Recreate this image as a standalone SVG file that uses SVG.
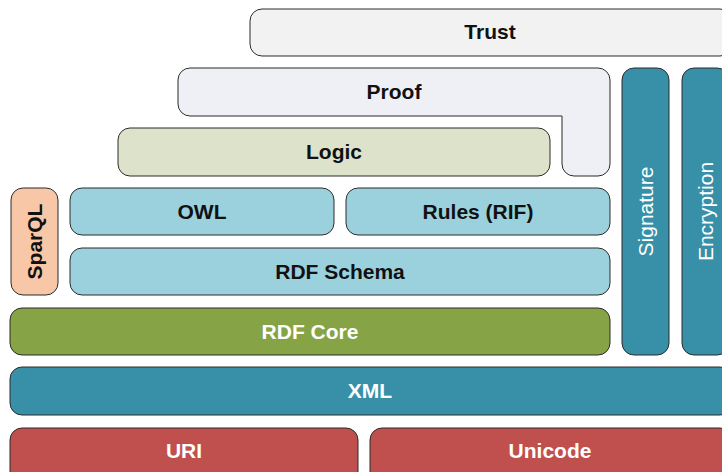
<svg xmlns="http://www.w3.org/2000/svg" width="722" height="472" viewBox="0 0 722 472">
<style>
.b{stroke:#2b2b2b;stroke-width:1}
.t{font-family:"Liberation Sans",Arial,sans-serif;font-size:21px;font-weight:bold;text-anchor:middle}
.dk{fill:#111}
.wh{fill:#ffffff}
.n{font-weight:normal}
</style>
<rect width="722" height="472" fill="#ffffff"/>
<g id="trust"><rect class="b" x="250" y="9" width="482" height="47" rx="12" fill="#f2f2f2"/><text class="t dk" x="490" y="39">Trust</text></g>
<g id="proof"><path class="b" fill="#eef0f5" d="M190,68 H598 A12,12 0 0 1 610,80 V164 A12,12 0 0 1 598,176 H574 A12,12 0 0 1 562,164 V116 H190 A12,12 0 0 1 178,104 V80 A12,12 0 0 1 190,68 Z"/><text class="t dk" x="394" y="99">Proof</text></g>
<g id="logic"><rect class="b" x="118" y="128" width="432" height="48" rx="12" fill="#dde2cb"/><text class="t dk" x="334" y="159">Logic</text></g>
<g id="signature"><rect class="b" x="622" y="68" width="47" height="287" rx="12" fill="#3790a8"/><text class="t wh n" transform="translate(645.5,211.5) rotate(-90)" y="7">Signature</text></g>
<g id="encryption"><rect class="b" x="682" y="68" width="47" height="287" rx="12" fill="#3790a8"/><text class="t wh n" transform="translate(705.5,211.5) rotate(-90)" y="7">Encryption</text></g>
<g id="sparql"><rect class="b" x="11" y="188" width="47" height="107" rx="12" fill="#f8c7a7"/><text class="t dk" transform="translate(34.5,241.5) rotate(-90)" y="7">SparQL</text></g>
<g id="owl"><rect class="b" x="70" y="188" width="264" height="47" rx="12" fill="#9bd1dd"/><text class="t dk" x="202" y="219">OWL</text></g>
<g id="rules"><rect class="b" x="346" y="188" width="264" height="47" rx="12" fill="#9bd1dd"/><text class="t dk" x="478" y="219">Rules (RIF)</text></g>
<g id="rdfschema"><rect class="b" x="70" y="248" width="540" height="47" rx="12" fill="#9bd1dd"/><text class="t dk" x="340" y="279">RDF Schema</text></g>
<g id="rdfcore"><rect class="b" x="10" y="308" width="600" height="47" rx="12" fill="#86a346"/><text class="t wh" x="310" y="339">RDF Core</text></g>
<g id="xml"><rect class="b" x="10" y="367" width="722" height="48" rx="12" fill="#3790a8"/><text class="t wh" x="370" y="398">XML</text></g>
<g id="uri"><rect class="b" x="10" y="428" width="348" height="56" rx="12" fill="#c0504d"/><text class="t wh" x="184" y="458">URI</text></g>
<g id="unicode"><rect class="b" x="370" y="428" width="362" height="56" rx="12" fill="#c0504d"/><text class="t wh" x="550" y="458">Unicode</text></g>
<g id="connectors"></g>
</svg>
